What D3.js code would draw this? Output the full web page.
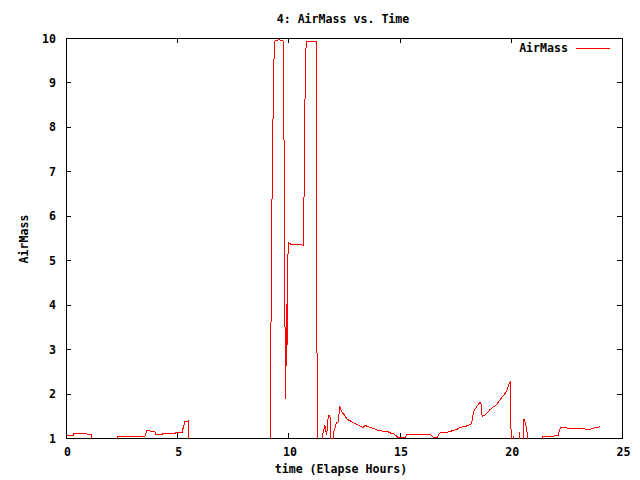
<!DOCTYPE html>
<html><head><meta charset="utf-8">
<script src="https://cdn.jsdelivr.net/npm/d3@7"></script>
<style>
body{margin:0;background:#fff;}
text{font-family:"DejaVu Sans Mono","Liberation Mono",monospace;font-weight:bold;font-size:11.6px;fill:#000;}
</style></head>
<body>
<svg id="c" width="640" height="480"></svg>
<script>
const title = "4: AirMass vs. Time";
const xLabel = "time (Elapse Hours)";
const yLabel = "AirMass";
const seriesName = "AirMass";
const xTicks = [0, 5, 10, 15, 20, 25];
const yTicks = [1, 2, 3, 4, 5, 6, 7, 8, 9, 10];
// values below 1 (below the axis) are drawn as 0 and clipped by the plot frame
const hours = [
 0.00,0.30,0.33,0.90,0.93,1.11,1.19,2.28,2.31,3.52,3.60,3.97,4.00,4.30,4.34,4.90,4.94,5.20,5.26,5.32,5.40,5.47,5.55,
 9.14,9.18,9.23,9.28,9.33,9.37,9.55,9.75,9.79,9.83,9.86,9.89,9.91,9.94,9.97,10.10,10.66,10.70,10.74,10.78,11.22,11.25,11.28,
 11.48,11.51,11.57,11.62,11.68,11.70,11.75,11.79,11.84,11.87,11.95,11.97,11.99,12.06,12.14,12.22,12.29,12.33,12.40,12.47,12.62,12.77,12.92,13.07,13.22,13.34,13.44,13.52,13.67,13.82,13.97,14.12,14.27,14.45,14.57,14.72,14.84,14.90,15.24,15.29,16.37,16.44,16.49,16.67,16.74,16.82,17.12,17.27,17.41,17.54,17.68,
 17.79,17.94,18.09,18.21,18.31,18.39,18.47,18.54,18.63,18.69,18.81,18.92,19.03,19.14,19.29,19.39,19.51,19.62,19.74,19.82,19.89,19.96,19.99,20.03,20.06,20.08,20.11,20.31,20.37,20.46,20.49,20.56,20.61,20.67,20.74,20.79,
 21.36,21.39,21.91,21.93,22.11,22.21,22.44,22.66,23.26,23.41,23.68,23.79,24.01
];
const airmass = [
 1.05,1.05,1.10,1.09,1.07,1.07,0,0,1.02,1.02,1.15,1.14,1.07,1.07,1.10,1.10,1.12,1.12,1.25,1.35,1.36,1.37,0,
 0,2.5,5.9,8.0,9.5,9.92,9.95,9.92,7.0,3.0,1.87,4.0,2.76,4.6,5.39,5.34,5.33,7.5,9.3,9.92,9.92,5.47,0,
 0,1.05,1.18,1.27,1.10,1.05,1.39,1.50,1.50,1.39,0,0,1.10,1.20,1.33,1.35,1.71,1.63,1.56,1.52,1.41,1.37,1.33,1.29,1.25,1.23,1.28,1.25,1.22,1.20,1.17,1.15,1.14,1.13,1.10,1.08,1.03,1.00,1.00,1.07,1.07,1.03,1.00,1.00,1.07,1.12,1.12,1.14,1.16,1.18,1.22,
 1.24,1.25,1.28,1.31,1.59,1.65,1.71,1.76,1.80,1.48,1.50,1.56,1.62,1.67,1.72,1.78,1.86,1.93,2.00,2.08,2.19,2.27,1.10,0,0,1.03,0,0,1.12,0,0,1.42,1.37,1.25,1.02,0,
 0,1.02,1.02,1.05,1.05,1.23,1.22,1.20,1.20,1.17,1.20,1.23,1.24
];

const svg = d3.select("#c");
const L = 66, R = 622, T = 38, B = 438;
const x = d3.scaleLinear().domain([0, 25]).range([L, R]);
const y = d3.scaleLinear().domain([1, 10]).range([B, T]);
const tl = 5;

// ticks (inward, mirrored)
const g = svg.append("g").attr("shape-rendering", "crispEdges").attr("stroke", "#000").attr("stroke-width", 1);
xTicks.forEach(v => {
  const px = Math.round(x(v)) + 0.5;
  g.append("line").attr("x1", px).attr("x2", px).attr("y1", B).attr("y2", B - tl);
  g.append("line").attr("x1", px).attr("x2", px).attr("y1", T).attr("y2", T + tl);
});
yTicks.forEach(v => {
  const py = Math.round(y(v)) + 0.5;
  g.append("line").attr("x1", L).attr("x2", L + tl).attr("y1", py).attr("y2", py);
  g.append("line").attr("x1", R).attr("x2", R - tl).attr("y1", py).attr("y2", py);
});
xTicks.forEach(v => {
  svg.append("text").attr("x", x(v) + 1.5).attr("y", 456).attr("text-anchor", "middle").text(v);
});
yTicks.forEach(v => {
  svg.append("text").attr("x", 56).attr("y", y(v) + 4.5).attr("text-anchor", "end").text(v);
});

// frame
svg.append("rect").attr("x", L + 0.5).attr("y", T + 0.5).attr("width", R - L).attr("height", B - T)
  .attr("fill", "none").attr("stroke", "#000").attr("shape-rendering", "crispEdges");

// legend
svg.append("text").attr("x", 568).attr("y", 52).attr("text-anchor", "end").text(seriesName);
svg.append("line").attr("x1", 576).attr("x2", 610).attr("y1", 48.5).attr("y2", 48.5)
  .attr("stroke", "#ff0000").attr("shape-rendering", "crispEdges");

// data line
svg.append("clipPath").attr("id", "clip").append("rect").attr("x", L).attr("y", T).attr("width", R - L + 1).attr("height", B - T + 1);
const pts = hours.map((h, i) => [h, airmass[i]]);
const line = d3.line().x(d => x(d[0]) + 0.5).y(d => y(d[1]) - 0.5);
svg.append("path").datum(pts).attr("d", line).attr("clip-path", "url(#clip)")
  .attr("fill", "none").attr("stroke", "#ff0000").attr("stroke-width", 1).attr("shape-rendering", "crispEdges");

// titles
svg.append("text").attr("x", 343).attr("y", 23).attr("text-anchor", "middle").text(title);
svg.append("text").attr("x", 341).attr("y", 473).attr("text-anchor", "middle").text(xLabel);
svg.append("text").attr("transform", "translate(28,239) rotate(-90)").attr("text-anchor", "middle").text(yLabel);
</script>
</body></html>
